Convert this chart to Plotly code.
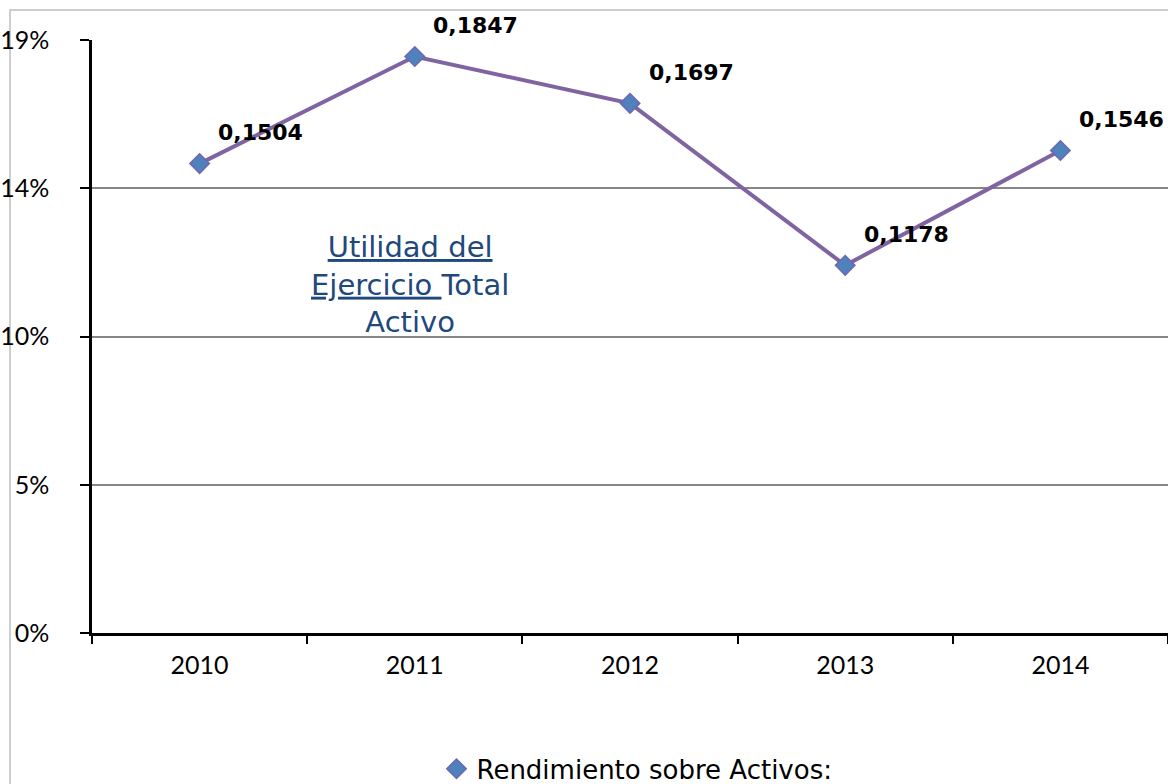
"""Rendimiento sobre Activos 2010-2014 (line chart)."""

import plotly.graph_objects as go

years = ["2010", "2011", "2012", "2013", "2014"]
roa = [0.1504, 0.1847, 0.1697, 0.1178, 0.1546]

y_tickvals = [0.0, 0.0475, 0.095, 0.1425, 0.19]
y_ticktext = ["0%", "5%", "10%", "14%", "19%"]

series_name = "Rendimiento sobre Activos:"
note_text = "<u>Utilidad del</u><br><u>Ejercicio </u>Total<br>Activo"

_COL_LINE = "#8064A2"
_COL_MARKER = "#4F81BD"
_COL_MARKER_EDGE = "#6B6AAE"
_COL_GRID = "#868686"
_COL_NOTE = "#1F497D"

_MARKER = dict(
    symbol="diamond",
    size=15,
    color=_COL_MARKER,
    line=dict(color=_COL_MARKER_EDGE, width=1.5),
)

fig = go.Figure()
fig.add_trace(
    go.Scatter(
        x=years,
        y=roa,
        name=series_name,
        mode="lines+markers",
        line=dict(color=_COL_LINE, width=4),
        marker=_MARKER,
        showlegend=False,
    )
)
# legend entry shows only the diamond, as in the original
fig.add_trace(
    go.Scatter(
        x=[years[0]],
        y=[None],
        name=series_name,
        mode="markers",
        marker=_MARKER,
        showlegend=True,
    )
)

# data labels, offset up-right of each point like the original
# (category axis: annotation x is the category's serial number)
for i, v in enumerate(roa):
    fig.add_annotation(
        x=i,
        y=v,
        text="<b>" + f"{v:.4f}".replace(".", ",") + "</b>",
        showarrow=False,
        xshift=61,
        yshift=31,
        font=dict(family="DejaVu Sans", size=22, color="#000000"),
    )

fig.add_annotation(
    xref="paper",
    yref="paper",
    x=0.2955,
    y=0.5885,
    xanchor="center",
    yanchor="middle",
    text=note_text,
    showarrow=False,
    align="center",
    font=dict(family="DejaVu Sans", size=29, color=_COL_NOTE),
)

# outer chart frame
fig.add_shape(
    type="rect",
    xref="paper",
    yref="paper",
    x0=-0.0762,
    y0=-0.6,
    x1=1.2,
    y1=1.0506,
    line=dict(color="#BFBFBF", width=1.5),
    layer="below",
)

fig.update_xaxes(
    type="category",
    range=[-0.5, 4.5],
    showline=True,
    linecolor="#000000",
    linewidth=2.5,
    ticks="outside",
    tickson="boundaries",
    ticklen=8,
    tickwidth=2,
    tickcolor="#000000",
    ticklabelstandoff=8,
    showgrid=False,
    tickfont=dict(family="Lato", size=25, color="#000000"),
)
fig.update_yaxes(
    range=[0, 0.19],
    tickvals=y_tickvals,
    ticktext=y_ticktext,
    showline=True,
    linecolor="#000000",
    linewidth=2.5,
    ticks="outside",
    ticklen=9,
    tickwidth=2,
    tickcolor="#000000",
    ticklabelstandoff=26,
    showgrid=True,
    gridcolor=_COL_GRID,
    gridwidth=2,
    zeroline=False,
    tickfont=dict(family="Lato", size=25, color="#000000"),
)
fig.update_layout(
    width=1168,
    height=784,
    paper_bgcolor="#FFFFFF",
    plot_bgcolor="#FFFFFF",
    margin=dict(l=92, r=0, t=40, b=151, autoexpand=False),
    showlegend=True,
    legend=dict(
        orientation="h",
        x=0.5065,
        xanchor="center",
        y=-0.229,
        yanchor="middle",
        font=dict(family="DejaVu Sans", size=26, color="#000000"),
    ),
)

fig.write_html(
    "out.html",
    config={"displayModeBar": False},
    post_script="document.body.style.margin = '0px';",
)
